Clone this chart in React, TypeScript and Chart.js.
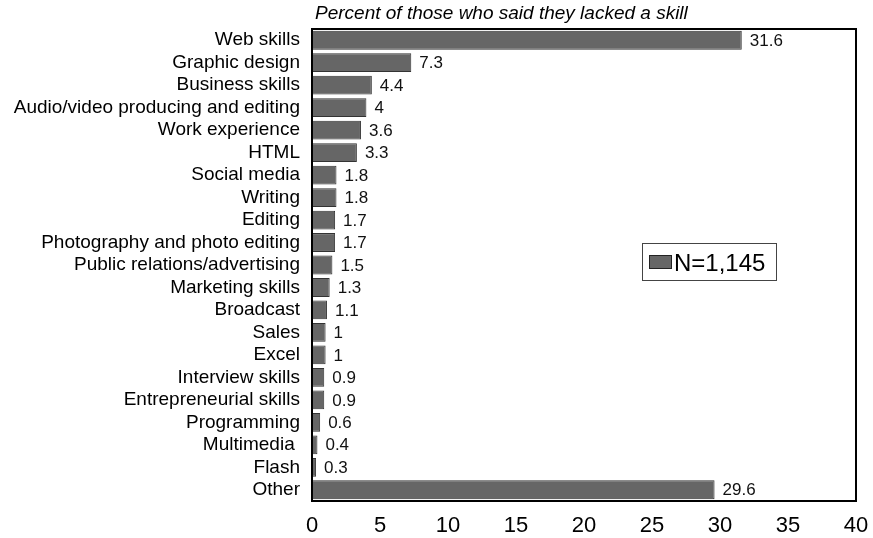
import React, { useEffect, useRef } from "react";
import { Chart, registerables } from "chart.js";

Chart.register(...registerables);

const categories = [
  "Web skills",
  "Graphic design",
  "Business skills",
  "Audio/video producing and editing",
  "Work experience",
  "HTML",
  "Social media",
  "Writing",
  "Editing",
  "Photography and photo editing",
  "Public relations/advertising",
  "Marketing skills",
  "Broadcast",
  "Sales",
  "Excel",
  "Interview skills",
  "Entrepreneurial skills",
  "Programming",
  "Multimedia ",
  "Flash",
  "Other",
];

const values = [31.6, 7.3, 4.4, 4, 3.6, 3.3, 1.8, 1.8, 1.7, 1.7, 1.5, 1.3, 1.1, 1, 1, 0.9, 0.9, 0.6, 0.4, 0.3, 29.6];

const seriesLabel = "N=1,145";
const titleText = "Percent of those who said they lacked a skill";

const FONT = "'Liberation Sans', Arial, sans-serif";

export default function App() {
  const ref = useRef<HTMLCanvasElement | null>(null);

  useEffect(() => {
    document.body.style.margin = "0";
    const canvas = ref.current;
    if (!canvas) return;

    const overlay = {
      id: "overlay",
      afterDatasetsDraw(chart: any) {
        const ctx = chart.ctx;
        const meta = chart.getDatasetMeta(0);
        ctx.save();
        ctx.font = `17px ${FONT}`;
        ctx.fillStyle = "#111";
        ctx.textAlign = "left";
        ctx.textBaseline = "middle";
        meta.data.forEach((bar: any, i: number) => {
          ctx.fillText(String(values[i]), bar.x + 8, bar.y + 1);
        });
        ctx.restore();
      },
      afterDraw(chart: any) {
        const ctx = chart.ctx;
        const a = chart.chartArea;
        ctx.save();
        // plot border
        ctx.strokeStyle = "#000";
        ctx.lineWidth = 2;
        ctx.strokeRect(a.left, a.top, a.right - a.left, a.bottom - a.top);
        // title
        ctx.font = `italic 19px ${FONT}`;
        ctx.fillStyle = "#000";
        ctx.textAlign = "left";
        ctx.textBaseline = "alphabetic";
        ctx.fillText(titleText, 315, 19);
        // legend
        const lx = 642, ly = 243, lw = 134, lh = 37;
        ctx.fillStyle = "#fff";
        ctx.fillRect(lx, ly, lw, lh);
        ctx.strokeStyle = "#444";
        ctx.lineWidth = 1;
        ctx.strokeRect(lx + 0.5, ly + 0.5, lw, lh);
        ctx.fillStyle = "#666";
        ctx.fillRect(649, 255, 23, 14);
        ctx.strokeStyle = "#222";
        ctx.strokeRect(649.5, 255.5, 22, 13);
        ctx.font = `24px ${FONT}`;
        ctx.fillStyle = "#000";
        ctx.fillText(seriesLabel, 674, 271);
        ctx.restore();
      },
    };

    const chart = new Chart(canvas, {
      type: "bar",
      data: {
        labels: categories,
        datasets: [
          {
            label: seriesLabel,
            data: values,
            backgroundColor: "#666666",
            borderColor: "#333333",
            borderWidth: 1,
            categoryPercentage: 0.9,
            barPercentage: 0.93,
          },
        ],
      },
      options: {
        indexAxis: "y",
        animation: false,
        responsive: false,
        layout: { padding: { top: 29, right: 17, left: 0, bottom: 0 } },
        plugins: {
          legend: { display: false },
          tooltip: { enabled: false },
          title: { display: false },
        },
        scales: {
          x: {
            min: 0,
            max: 40,
            ticks: {
              stepSize: 5,
              color: "#000",
              font: { family: FONT, size: 22 },
              padding: 12,
              maxRotation: 0,
            },
            grid: { display: false, drawTicks: false },
            border: { display: false },
            afterFit(scale: any) {
              scale.height = 37;
              scale.paddingLeft = 0;
              scale.paddingRight = 0;
            },
          },
          y: {
            ticks: {
              color: "#000",
              font: { family: FONT, size: 19 },
              padding: 12,
              autoSkip: false,
            },
            grid: { display: false, drawTicks: false },
            border: { display: false },
            afterFit(scale: any) {
              scale.width = 312;
              scale.paddingTop = 0;
              scale.paddingBottom = 0;
            },
          },
        },
      },
      plugins: [overlay],
    });

    return () => chart.destroy();
  }, []);

  return <canvas ref={ref} width={873} height={538} style={{ display: "block" }} />;
}
